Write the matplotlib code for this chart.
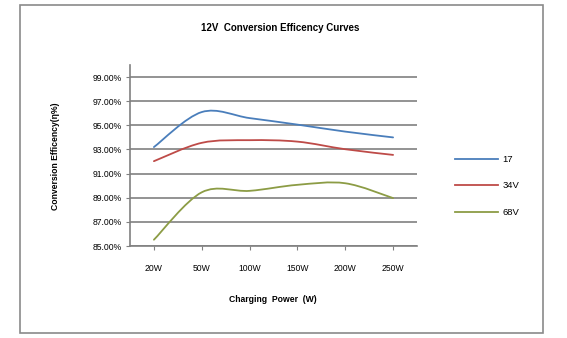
import matplotlib
matplotlib.use("Agg")
import numpy as np
from matplotlib import pyplot as plt
from matplotlib.path import Path
from matplotlib.patches import PathPatch, Rectangle
from matplotlib.lines import Line2D

plt.rcParams["font.family"] = ["Liberation Sans", "DejaVu Sans"]

powers = ["20W", "50W", "100W", "150W", "200W", "250W"]
eff_17 = [93.2, 96.1, 95.6, 95.06, 94.48, 94.0]
eff_34v = [92.03, 93.55, 93.77, 93.65, 93.02, 92.55]
eff_68v = [85.52, 89.45, 89.57, 90.07, 90.2, 88.97]
series_names = ["17", "34V", "68V"]
colors = ["#4a7ebb", "#be4b48", "#8c9c45"]
yticks = [85, 87, 89, 91, 93, 95, 97, 99]


def smooth_path(xs, ys):
    # excel-like smoothed line as cubic bezier segments
    pts = np.column_stack([xs, ys]).astype(float)
    n = len(pts)
    verts = [pts[0]]
    codes = [Path.MOVETO]
    for i in range(n - 1):
        p0 = pts[i - 1] if i > 0 else pts[i]
        p1 = pts[i]
        p2 = pts[i + 1]
        p3 = pts[i + 2] if i + 2 < n else pts[i + 1]
        c1 = p1 + (p2 - p0) / 6
        c2 = p2 - (p3 - p1) / 6
        verts += [c1, c2, p2]
        codes += [Path.CURVE4] * 3
    return Path(verts, codes)


def main():
    fig = plt.figure(figsize=(5.67, 3.38), dpi=100)
    fig.patches.append(Rectangle((20 / 567, 5 / 338), 523 / 567, 328 / 338,
                                 transform=fig.transFigure, fill=False,
                                 edgecolor="#8a8a8a", linewidth=1.2))
    ax = fig.add_axes([130 / 567, (338 - 246) / 338, 287 / 567, 181 / 338])
    x = np.arange(len(powers))
    handles = []
    for vals, name, c in zip([eff_17, eff_34v, eff_68v], series_names, colors):
        ax.add_patch(PathPatch(smooth_path(x, vals), fill=False, edgecolor=c,
                               linewidth=1.3, capstyle="round"))
        handles.append(Line2D([], [], color=c, linewidth=1.3, label=name))

    ax.set_xlim(-0.5, len(powers) - 0.5)
    ax.set_ylim(85, 100)
    ax.set_yticks(yticks)
    ax.set_yticklabels([f"{v:.2f}%" for v in yticks], fontsize=6.2)
    ax.set_xticks(x)
    ax.set_xticklabels(powers, fontsize=6.2)
    ax.tick_params(axis="x", length=3, color="#808080", pad=10)
    ax.tick_params(axis="y", length=3, color="#808080", pad=3)
    ax.grid(axis="y", color="#808080", linewidth=1.2)
    ax.set_axisbelow(True)
    for s in ["top", "right"]:
        ax.spines[s].set_visible(False)
    for s in ["left", "bottom"]:
        ax.spines[s].set_color("#808080")
        ax.spines[s].set_linewidth(1.2)

    fig.text(280 / 567, 1 - 28 / 338, "12V  Conversion Efficency Curves",
             ha="center", va="center", fontsize=7, fontweight="bold")
    fig.text(273 / 567, 1 - 299 / 338, "Charging  Power  (W)",
             ha="center", va="center", fontsize=6.2, fontweight="bold")
    fig.text(56 / 567, 1 - 156 / 338, "Conversion Efficency(η%)", rotation=90,
             ha="center", va="center", fontsize=6.2, fontweight="bold")

    fig.legend(handles=handles, loc="center left", frameon=False, fontsize=6.8,
               bbox_to_anchor=(446 / 567, 1 - 186 / 338), handlelength=4.6,
               labelspacing=1.85, handletextpad=0.5)
    fig.savefig("out.png", dpi=100)


if __name__ == "__main__":
    main()
